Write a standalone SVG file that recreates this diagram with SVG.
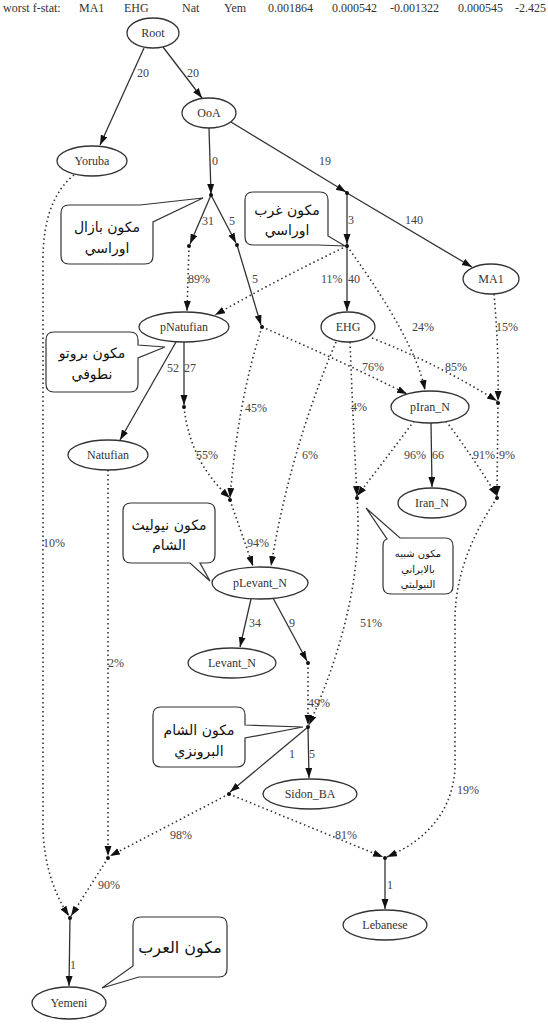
<svg xmlns="http://www.w3.org/2000/svg" width="548" height="1024" viewBox="0 0 548 1024">
<style>
.hdr{font-family:"Liberation Serif",serif;font-size:12px;fill:#333}
.node ellipse{fill:#fff;stroke:#333;stroke-width:1.3}
.node text{font-family:"Liberation Serif",serif;font-size:12px;fill:#333;text-anchor:middle}
.sol{fill:none;stroke:#333;stroke-width:1.3;marker-end:url(#arr)}
.dot{fill:none;stroke:#333;stroke-width:1.6;stroke-dasharray:1.5,3;marker-end:url(#arr)}
.lbl{font-family:"Liberation Serif",serif;font-size:12px;fill:#444}
.jn{fill:#111}
.call path{fill:#fff;stroke:#333;stroke-width:1.2}
.call text{font-family:"DejaVu Sans",sans-serif;font-size:14px;fill:#111;text-anchor:middle}
</style>
<defs>
<marker id="arr" markerUnits="userSpaceOnUse" markerWidth="11" markerHeight="8" refX="10" refY="3.5" orient="auto">
<path d="M0,0 L10,3.5 L0,7 Z" fill="#111"/>
</marker>
</defs>
<rect width="548" height="1024" fill="#fff"/>
<g id="header">
<text class="hdr" x="3" y="12">worst f-stat:</text>
<text class="hdr" x="79" y="12">MA1</text>
<text class="hdr" x="124" y="12">EHG</text>
<text class="hdr" x="182" y="12">Nat</text>
<text class="hdr" x="224" y="12">Yem</text>
<text class="hdr" x="268" y="12">0.001864</text>
<text class="hdr" x="332" y="12">0.000542</text>
<text class="hdr" x="390" y="12">-0.001322</text>
<text class="hdr" x="458" y="12">0.000545</text>
<text class="hdr" x="515" y="12">-2.425</text>
</g>
<g id="connectors">
<path class="sol" d="M144,48 L100,145"/>
<path class="sol" d="M163,47 L202,98"/>
<path class="sol" d="M209,128 L211,194"/>
<path class="sol" d="M211,195 L190,244"/>
<path class="sol" d="M211,195 L236,243"/>
<path class="sol" d="M237,245 L261,325"/>
<path class="sol" d="M231,122 L346,192"/>
<path class="sol" d="M347,193 L472,267"/>
<path class="sol" d="M347,193 L347,244"/>
<path class="sol" d="M347,246 L347,311"/>
<path class="sol" d="M184,342 L184,405"/>
<path class="sol" d="M176,342 L120,440"/>
<path class="sol" d="M431,423 L432,487"/>
<path class="sol" d="M251,599 L240,647"/>
<path class="sol" d="M273,598 L307,661"/>
<path class="sol" d="M308,727 L309,778"/>
<path class="sol" d="M308,727 L230,792"/>
<path class="sol" d="M70,918 L69,986"/>
<path class="sol" d="M385,858 L385,909"/>
<path class="dot" d="M189,246 L187,311"/>
<path class="dot" d="M347,246 Q280,278 215,315"/>
<path class="dot" d="M347,246 Q415,340 425,390"/>
<path class="dot" d="M262,327 Q335,358 407,394"/>
<path class="dot" d="M372,338 Q440,365 497,401"/>
<path class="dot" d="M494,294 Q499,350 498,401"/>
<path class="dot" d="M350,342 Q353,420 357,496"/>
<path class="dot" d="M414,421 Q385,460 357,496"/>
<path class="dot" d="M446,421 Q475,460 497,496"/>
<path class="dot" d="M498,403 L497,496"/>
<path class="dot" d="M336,342 Q290,450 271,566"/>
<path class="dot" d="M184,407 Q190,462 230,498"/>
<path class="dot" d="M262,327 Q238,400 230,498"/>
<path class="dot" d="M230,500 L253,566"/>
<path class="dot" d="M74,175 Q43,200 43,260 L43,830 Q45,880 69,916"/>
<path class="dot" d="M108,470 L108,856"/>
<path class="dot" d="M108,858 L71,916"/>
<path class="dot" d="M357,498 Q365,600 309,725"/>
<path class="dot" d="M308,663 L308,725"/>
<path class="dot" d="M229,794 L110,856"/>
<path class="dot" d="M229,794 L383,857"/>
<path class="dot" d="M497,498 Q455,560 455,620 L455,770 Q450,830 387,857"/>
<g id="edge-labels">
<text class="lbl" x="137" y="77">20</text>
<text class="lbl" x="187" y="77">20</text>
<text class="lbl" x="212" y="165">0</text>
<text class="lbl" x="319" y="165">19</text>
<text class="lbl" x="202" y="225">31</text>
<text class="lbl" x="229" y="225">5</text>
<text class="lbl" x="348" y="224">3</text>
<text class="lbl" x="405" y="224">140</text>
<text class="lbl" x="188" y="283">89%</text>
<text class="lbl" x="252" y="283">5</text>
<text class="lbl" x="321" y="283">11%</text>
<text class="lbl" x="348" y="283">40</text>
<text class="lbl" x="412" y="331">24%</text>
<text class="lbl" x="496" y="331">15%</text>
<text class="lbl" x="167" y="372">52</text>
<text class="lbl" x="184" y="372">27</text>
<text class="lbl" x="362" y="371">76%</text>
<text class="lbl" x="445" y="371">85%</text>
<text class="lbl" x="245" y="412">45%</text>
<text class="lbl" x="351" y="411">4%</text>
<text class="lbl" x="196" y="459">55%</text>
<text class="lbl" x="302" y="459">6%</text>
<text class="lbl" x="404" y="459">96%</text>
<text class="lbl" x="432" y="459">66</text>
<text class="lbl" x="473" y="459">91%</text>
<text class="lbl" x="499" y="459">9%</text>
<text class="lbl" x="43" y="547">10%</text>
<text class="lbl" x="247" y="547">94%</text>
<text class="lbl" x="249" y="627">34</text>
<text class="lbl" x="289" y="627">9</text>
<text class="lbl" x="360" y="627">51%</text>
<text class="lbl" x="108" y="667">2%</text>
<text class="lbl" x="308" y="707">49%</text>
<text class="lbl" x="289" y="758">1</text>
<text class="lbl" x="309" y="758">5</text>
<text class="lbl" x="457" y="794">19%</text>
<text class="lbl" x="170" y="839">98%</text>
<text class="lbl" x="335" y="839">81%</text>
<text class="lbl" x="98" y="889">90%</text>
<text class="lbl" x="387" y="889">1</text>
<text class="lbl" x="70" y="969">1</text>
</g>
</g>
<g id="junctions">
<circle class="jn" cx="211" cy="195" r="2"/>
<circle class="jn" cx="189" cy="246" r="2"/>
<circle class="jn" cx="237" cy="245" r="2"/>
<circle class="jn" cx="262" cy="327" r="2"/>
<circle class="jn" cx="347" cy="193" r="2"/>
<circle class="jn" cx="347" cy="246" r="2"/>
<circle class="jn" cx="184" cy="407" r="2"/>
<circle class="jn" cx="498" cy="403" r="2"/>
<circle class="jn" cx="357" cy="498" r="2"/>
<circle class="jn" cx="497" cy="498" r="2"/>
<circle class="jn" cx="230" cy="500" r="2"/>
<circle class="jn" cx="308" cy="663" r="2"/>
<circle class="jn" cx="308" cy="727" r="2"/>
<circle class="jn" cx="229" cy="794" r="2"/>
<circle class="jn" cx="108" cy="858" r="2"/>
<circle class="jn" cx="70" cy="918" r="2"/>
<circle class="jn" cx="385" cy="858" r="2"/>
</g>
<g id="Root" class="node"><ellipse cx="153" cy="33" rx="26" ry="15"/><text x="153" y="37">Root</text></g>
<g id="OoA" class="node"><ellipse cx="209" cy="113" rx="27" ry="15"/><text x="209" y="117">OoA</text></g>
<g id="Yoruba" class="node"><ellipse cx="92" cy="161" rx="35" ry="15"/><text x="92" y="165">Yoruba</text></g>
<g id="pNatufian" class="node"><ellipse cx="184" cy="327" rx="45" ry="15"/><text x="184" y="331">pNatufian</text></g>
<g id="EHG" class="node"><ellipse cx="348" cy="327" rx="27" ry="15"/><text x="348" y="331">EHG</text></g>
<g id="MA1" class="node"><ellipse cx="491" cy="279" rx="28" ry="15"/><text x="491" y="283">MA1</text></g>
<g id="Natufian" class="node"><ellipse cx="108" cy="455" rx="40" ry="15"/><text x="108" y="459">Natufian</text></g>
<g id="pIran_N" class="node"><ellipse cx="430" cy="407" rx="39" ry="16"/><text x="430" y="411">pIran_N</text></g>
<g id="Iran_N" class="node"><ellipse cx="432" cy="503" rx="34" ry="15"/><text x="432" y="507">Iran_N</text></g>
<g id="pLevant_N" class="node"><ellipse cx="260" cy="583" rx="48" ry="16"/><text x="260" y="587">pLevant_N</text></g>
<g id="Levant_N" class="node"><ellipse cx="232" cy="663" rx="44" ry="15"/><text x="232" y="667">Levant_N</text></g>
<g id="Sidon_BA" class="node"><ellipse cx="310" cy="794" rx="47" ry="15"/><text x="310" y="798">Sidon_BA</text></g>
<g id="Lebanese" class="node"><ellipse cx="385" cy="925" rx="42" ry="15"/><text x="385" y="929">Lebanese</text></g>
<g id="Yemeni" class="node"><ellipse cx="69" cy="1003" rx="37" ry="16"/><text x="69" y="1007">Yemeni</text></g>
<g id="callout-basal" class="call">
<path d="M69,205 H140 L203,198 L153,222 V256 Q153,264 145,264 H69 Q61,264 61,256 V213 Q61,205 69,205 Z"/>
<text x="107" y="232">مكون بازال</text><text x="107" y="253">اوراسي</text>
</g>
<g id="callout-west" class="call">
<path d="M253,192 H320 Q328,192 328,200 V236 L345,246 L318,245 H253 Q245,245 245,237 V200 Q245,192 253,192 Z"/>
<text x="287" y="215">مكون غرب</text><text x="287" y="235">اوراسي</text>
</g>
<g id="callout-proto" class="call">
<path d="M54,332 H130 Q138,332 138,340 V345 L165,347 L138,358 V384 Q138,392 130,392 H54 Q46,392 46,384 V340 Q46,332 54,332 Z"/>
<text x="92" y="358">مكون بروتو</text><text x="92" y="379">نطوفي</text>
</g>
<g id="callout-neolevant" class="call">
<path d="M131,503 H207 Q215,503 215,511 V555 Q215,563 207,563 H200 L210,581 L190,563 H131 Q123,563 123,555 V511 Q123,503 131,503 Z"/>
<text x="169" y="530">مكون نيوليث</text><text x="169" y="550">الشام</text>
</g>
<g id="callout-iran" class="call">
<path d="M366,508 L400,538 H445 Q453,538 453,546 V586 Q453,594 445,594 H391 Q383,594 383,586 V546 Q383,540 387,539 Z"/>
<text x="418" y="557" style="font-size:10px">مكون شبيه</text><text x="418" y="573" style="font-size:10px">بالايراني</text><text x="418" y="588" style="font-size:10px">النيوليثي</text>
</g>
<g id="callout-bronze" class="call">
<path d="M161,707 H237 Q245,707 245,715 V725 L303,727 L245,738 V759 Q245,767 237,767 H161 Q153,767 153,759 V715 Q153,707 161,707 Z"/>
<text x="199" y="735">مكون الشام</text><text x="199" y="756">البرونزي</text>
</g>
<g id="callout-arab" class="call">
<path d="M141,917 H219 Q227,917 227,925 V969 Q227,977 219,977 H139 L102,988 L133,966 V925 Q133,917 141,917 Z"/>
<text x="180" y="953" style="font-size:16px">مكون العرب</text>
</g>
</svg>
